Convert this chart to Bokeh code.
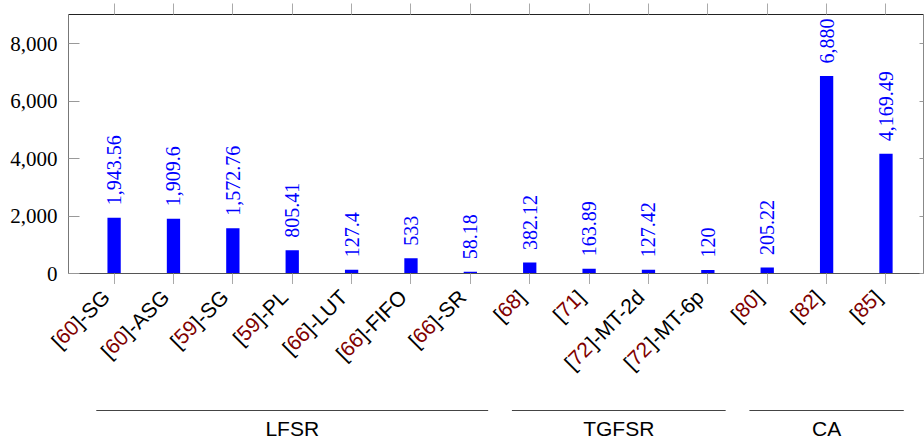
import math
from bokeh.plotting import figure
from bokeh.layouts import column
from bokeh.models import (ColumnDataSource, LinearAxis, Range1d, NumeralTickFormatter,
                          FixedTicker, Grid)
from bokeh.core.properties import value
from bokeh.embed import file_html
from bokeh.resources import INLINE

# ---------------- data ----------------
refs = ["60", "60", "59", "59", "66", "66", "66", "68", "71", "72", "72", "80", "82", "85"]
suffixes = ["-SG", "-ASG", "-SG", "-PL", "-LUT", "-FIFO", "-SR", "", "", "-MT-2d", "-MT-6p", "", "", ""]
values = [1943.56, 1909.6, 1572.76, 805.41, 127.4, 533, 58.18, 382.12, 163.89, 127.42, 120, 205.22, 6880, 4169.49]
groups = ["LFSR", "TGFSR", "CA"]
group_first = [0, 7, 11]
group_last = [6, 10, 13]
y_ticks = [0, 2000, 4000, 6000, 8000]

# ---------------- layout constants ----------------
W = 924
H1 = 284
H2 = 442 - H1
MB_L, MB_T, MB_R, MB_B = 68, 14, 1, 11
Y_MAX = 9020
X0, X1 = -0.768, 13.632
FRAME_W = W - MB_L - MB_R
PX_PER_X = FRAME_W / (X1 - X0)
XL_FONT = 21
BLUE = "#0000ff"
DARKRED = "#800000"
TICK_COLOR = "#aaaaaa"

# Liberation Sans (Arial metric) advance widths, per 1000 em
ADV = {"[": 278, "]": 278, "-": 333, "S": 667, "G": 778, "A": 667, "P": 667,
       "L": 556, "U": 722, "T": 611, "F": 611, "I": 278, "O": 778, "R": 722,
       "M": 833, "d": 556, "p": 556}
for ch in "0123456789":
    ADV[ch] = 556


def text_w(s):
    return sum(ADV.get(ch, 556) for ch in s) / 1000.0 * XL_FONT


def fmt(v):
    return f"{v:,.2f}".rstrip("0").rstrip(".")


def drop_grids(fig):
    fig.center = [r for r in fig.center if not isinstance(r, Grid)]


xs = list(range(len(values)))

# ================= main chart =================
p = figure(width=W, height=H1, x_range=Range1d(X0, X1), y_range=Range1d(0, Y_MAX),
           output_backend="svg", toolbar_location=None,
           x_axis_location=None, y_axis_location=None,
           min_border_left=MB_L, min_border_top=MB_T, min_border_right=MB_R, min_border_bottom=MB_B)
drop_grids(p)
p.outline_line_color = None
p.frame_align = False


def hide_labels(ax):
    ax.major_label_text_font_size = "0px"
    ax.major_label_text_color = None
    ax.major_label_standoff = 0
    ax.minor_tick_in = 0
    ax.minor_tick_out = 0


left = LinearAxis(ticker=FixedTicker(ticks=y_ticks), formatter=NumeralTickFormatter(format="0,0"))
left.major_tick_in = 11
left.major_tick_out = 0
left.minor_tick_in = 0
left.minor_tick_out = 0
left.major_tick_line_color = "#999999"
left.axis_line_color = "#777777"
left.major_label_standoff = 11
left.major_label_text_font = "Liberation Serif"
left.major_label_text_font_size = "21px"
left.major_label_text_color = "black"
p.add_layout(left, "left")

right = LinearAxis(ticker=FixedTicker(ticks=y_ticks))
hide_labels(right)
right.major_tick_in = 4
right.major_tick_out = 0
right.major_tick_line_color = "#999999"
right.axis_line_color = "#888888"
p.add_layout(right, "right")

bottom = LinearAxis(ticker=FixedTicker(ticks=xs))
hide_labels(bottom)
bottom.major_tick_in = 0
bottom.major_tick_out = 11
bottom.major_tick_line_color = TICK_COLOR
bottom.axis_line_color = "#555555"
p.add_layout(bottom, "below")

top = LinearAxis(ticker=FixedTicker(ticks=xs))
hide_labels(top)
top.major_tick_in = 0
top.major_tick_out = 11
top.major_tick_line_color = TICK_COLOR
top.axis_line_color = "#222222"
p.add_layout(top, "above")

src = ColumnDataSource(dict(x=xs, v=values, lab=[fmt(v) for v in values]))
p.vbar(x="x", top="v", width=0.224, source=src, fill_color=BLUE, line_color=None)
p.text(x="x", y="v", text="lab", source=src, angle=math.pi / 2,
       text_align="left", text_baseline="middle", y_offset=-12.5,
       text_font=value("Liberation Serif"), text_font_size="20px", text_color=BLUE)

# ================= category labels + groups (below the axis) =================
XB0 = X0 - MB_L / PX_PER_X
XB1 = XB0 + W / PX_PER_X
q = figure(width=W, height=H2, x_range=Range1d(XB0, XB1), y_range=Range1d(-H2, 0),
           output_backend="svg", toolbar_location=None,
           x_axis_location=None, y_axis_location=None,
           min_border_left=0, min_border_right=0, min_border_top=0, min_border_bottom=0)
drop_grids(q)
q.outline_line_color = None
q.frame_align = False

c = math.cos(math.pi / 4)
ANCHOR_DX = -8   # px, shift of label end relative to tick
ANCHOR_Y = -9
lx, ly, lt, lc = [], [], [], []
for i, (r, s) in enumerate(zip(refs, suffixes)):
    pieces = [("[", "black"), (r, DARKRED), ("]" + s, "black")]
    back = 0.0
    for txt, col in reversed(pieces):
        lx.append(i + (ANCHOR_DX - back * c) / PX_PER_X)
        ly.append(ANCHOR_Y - back * c)
        lt.append(txt)
        lc.append(col)
        back += text_w(txt)

tsrc = ColumnDataSource(dict(x=lx, y=ly, t=lt, col=lc))
q.text(x="x", y="y", text="t", source=tsrc, angle=math.pi / 4, text_color="col",
       text_align="right", text_baseline="middle",
       text_font=value("Liberation Sans"), text_font_size=f"{XL_FONT}px")

G_LINE_Y = -126
G_TEXT_Y = -144
gsrc = ColumnDataSource(dict(
    x0=[f - 0.3 for f in group_first], x1=[l + 0.3 for l in group_last],
    y=[G_LINE_Y] * len(groups), ty=[G_TEXT_Y] * len(groups),
    xm=[(f + l) / 2 for f, l in zip(group_first, group_last)], name=groups))
q.segment(x0="x0", y0="y", x1="x1", y1="y", source=gsrc, line_color="#444444", line_width=1)
q.text(x="xm", y="ty", text="name", source=gsrc, text_align="center", text_baseline="middle",
       text_font=value("Liberation Sans"), text_font_size="21px", text_color="black")

layout = column(p, q, spacing=0)
open("out.html", "w").write(file_html(layout, INLINE))
